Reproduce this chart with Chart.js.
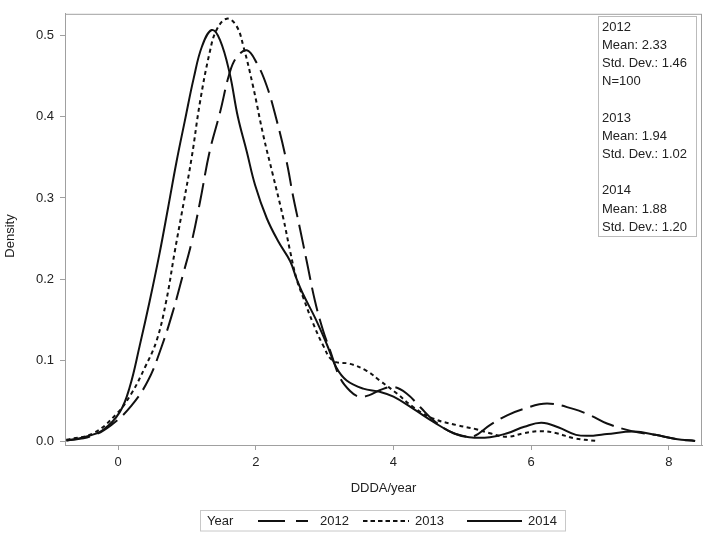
<!DOCTYPE html>
<html>
<head>
<meta charset="utf-8">
<script src="https://cdn.jsdelivr.net/npm/chart.js@4"></script>
<style>
    body { margin: 0; background: #fff; }
    canvas { display: block; }
</style>
</head>
<body>
<canvas id="densityChart" width="709" height="539"></canvas>
<script>
// Kernel density curves
const x2012 = [-0.75, -0.4, -0.1, 0.195, 0.436, 0.63, 0.8, 0.945, 1.07, 1.19, 1.33, 1.48, 1.62, 1.72, 1.87, 2.01, 2.16, 2.3, 2.45, 2.54, 2.64, 2.74, 2.86, 2.98, 3.08, 3.22, 3.37, 3.5, 3.65, 3.8, 4.0, 4.19, 4.39, 4.58, 4.8, 5.0, 5.16, 5.4, 5.65, 5.89, 6.23, 6.61, 6.86, 7.1, 7.49, 7.8, 8.1, 8.38];
const y2012 = [0.001, 0.006, 0.02, 0.044, 0.075, 0.116, 0.161, 0.206, 0.246, 0.295, 0.357, 0.405, 0.454, 0.473, 0.482, 0.467, 0.438, 0.397, 0.344, 0.303, 0.263, 0.222, 0.173, 0.136, 0.112, 0.079, 0.062, 0.055, 0.057, 0.063, 0.067, 0.059, 0.042, 0.026, 0.013, 0.007, 0.006, 0.02, 0.032, 0.04, 0.0465, 0.04, 0.032, 0.022, 0.012, 0.008, 0.003, 0.0005];

const x2013 = [-0.75, -0.36, -0.02, 0.195, 0.39, 0.56, 0.7, 0.824, 0.955, 1.07, 1.19, 1.33, 1.43, 1.58, 1.72, 1.82, 1.96, 2.11, 2.25, 2.4, 2.5, 2.59, 2.69, 2.83, 2.98, 3.12, 3.37, 3.61, 3.8, 4.05, 4.29, 4.58, 4.92, 5.2, 5.4, 5.65, 5.89, 6.13, 6.37, 6.61, 6.95];
const y2013 = [0.002, 0.01, 0.034, 0.059, 0.091, 0.124, 0.173, 0.234, 0.295, 0.35, 0.418, 0.479, 0.507, 0.521, 0.512, 0.487, 0.438, 0.377, 0.328, 0.275, 0.234, 0.201, 0.177, 0.146, 0.118, 0.0995, 0.0955, 0.087, 0.075, 0.059, 0.042, 0.028, 0.02, 0.015, 0.01, 0.0056, 0.01, 0.0126, 0.01, 0.004, 0.0004];

const x2014 = [-0.75, -0.5, -0.22, 0.025, 0.17, 0.315, 0.46, 0.606, 0.727, 0.85, 0.97, 1.1, 1.22, 1.36, 1.48, 1.62, 1.74, 1.87, 1.99, 2.16, 2.33, 2.5, 2.59, 2.69, 2.86, 3.03, 3.17, 3.32, 3.56, 3.8, 4.0, 4.29, 4.58, 4.87, 5.1, 5.4, 5.65, 5.9, 6.15, 6.4, 6.65, 6.9, 7.1, 7.5, 7.8, 8.1, 8.38];
const y2014 = [0.001, 0.005, 0.014, 0.036, 0.067, 0.118, 0.173, 0.233, 0.288, 0.345, 0.395, 0.448, 0.487, 0.507, 0.495, 0.454, 0.4, 0.357, 0.316, 0.275, 0.246, 0.222, 0.201, 0.181, 0.1525, 0.12, 0.091, 0.075, 0.065, 0.061, 0.055, 0.04, 0.024, 0.01, 0.005, 0.005, 0.01, 0.018, 0.023, 0.017, 0.008, 0.007, 0.009, 0.012, 0.008, 0.003, 0.0005];

const xTicks = [0, 2, 4, 6, 8];
const yTicks = [0, 0.1, 0.2, 0.3, 0.4, 0.5];

const statsLines = ['2012', 'Mean: 2.33', 'Std. Dev.: 1.46', 'N=100', '', '2013', 'Mean: 1.94', 'Std. Dev.: 1.02', '', '2014', 'Mean: 1.88', 'Std. Dev.: 1.20'];

const FONT = '13px "Liberation Sans", Arial, sans-serif';
const TEXT = '#222';
const FRAME = '#a0a0a0';

function toPoints(xs, ys) {
    return xs.map((x, i) => ({ x: x, y: ys[i] }));
}

const extras = {
    id: 'extras',
    afterDraw(chart) {
        const ctx = chart.ctx;
        const area = chart.chartArea;
        ctx.save();

        // frame around plot
        ctx.strokeStyle = FRAME;
        ctx.lineWidth = 1;
        ctx.strokeRect(area.left + 0.5, area.top + 0.5, area.right - area.left - 1, area.bottom - area.top);

        ctx.font = FONT;
        ctx.fillStyle = TEXT;

        // axis titles
        ctx.textAlign = 'center';
        ctx.textBaseline = 'middle';
        ctx.fillText('DDDA/year', (area.left + area.right) / 2, 488);
        ctx.save();
        ctx.translate(10, 236);
        ctx.rotate(-Math.PI / 2);
        ctx.fillText('Density', 0, 0);
        ctx.restore();

        // stats inset
        ctx.fillStyle = '#fff';
        ctx.fillRect(598.5, 16.5, 98, 220);
        ctx.strokeStyle = '#bbb';
        ctx.strokeRect(598.5, 16.5, 98, 220);
        ctx.fillStyle = TEXT;
        ctx.textAlign = 'left';
        statsLines.forEach((line, i) => {
            ctx.fillText(line, 602, 27 + i * 18.2);
        });

        // legend
        ctx.strokeStyle = '#c8c8c8';
        ctx.strokeRect(200.5, 510.5, 365, 20.5);
        ctx.fillText('Year', 207, 521.5);
        ctx.strokeStyle = '#111';
        ctx.lineWidth = 2;
        const ly = 521;
        [[258, 308, [27, 11]], [363, 409, [4.5, 3]], [467, 522, []]].forEach(seg => {
            ctx.setLineDash(seg[2]);
            ctx.beginPath();
            ctx.moveTo(seg[0], ly);
            ctx.lineTo(seg[1], ly);
            ctx.stroke();
        });
        ctx.setLineDash([]);
        ctx.fillText('2012', 320, 521.5);
        ctx.fillText('2013', 415, 521.5);
        ctx.fillText('2014', 528, 521.5);

        ctx.restore();
    }
};

const lineStyle = {
    borderColor: '#111',
    borderWidth: 2,
    pointRadius: 0,
    fill: false,
    tension: 0.4
};

new Chart(document.getElementById('densityChart').getContext('2d'), {
    type: 'line',
    data: {
        datasets: [
            Object.assign({ label: '2012', data: toPoints(x2012, y2012), borderDash: [24, 8] }, lineStyle),
            Object.assign({ label: '2013', data: toPoints(x2013, y2013), borderDash: [4, 3.5] }, lineStyle),
            Object.assign({ label: '2014', data: toPoints(x2014, y2014) }, lineStyle)
        ]
    },
    options: {
        responsive: false,
        animation: false,
        devicePixelRatio: 1,
        layout: { padding: { top: 11, right: 7, left: 0, bottom: 0 } },
        plugins: {
            legend: { display: false },
            tooltip: { enabled: false }
        },
        scales: {
            x: {
                type: 'linear',
                min: -0.77,
                max: 8.48,
                afterFit: s => { s.height = 94; },
                afterBuildTicks: s => { s.ticks = xTicks.map(v => ({ value: v })); },
                grid: { drawOnChartArea: false, tickLength: 5, color: FRAME },
                border: { color: FRAME },
                ticks: {
                    padding: 5,
                    color: TEXT,
                    font: { family: '"Liberation Sans", Arial, sans-serif', size: 13 },
                    callback: v => String(v)
                }
            },
            y: {
                type: 'linear',
                min: -0.0045,
                max: 0.527,
                afterFit: s => { s.width = 65; },
                afterBuildTicks: s => { s.ticks = yTicks.map(v => ({ value: v })); },
                grid: { drawOnChartArea: false, tickLength: 5, color: FRAME },
                border: { color: FRAME },
                ticks: {
                    padding: 6,
                    color: TEXT,
                    font: { family: '"Liberation Sans", Arial, sans-serif', size: 13 },
                    callback: v => v.toFixed(1)
                }
            }
        }
    },
    plugins: [extras]
});
</script>
</body>
</html>
